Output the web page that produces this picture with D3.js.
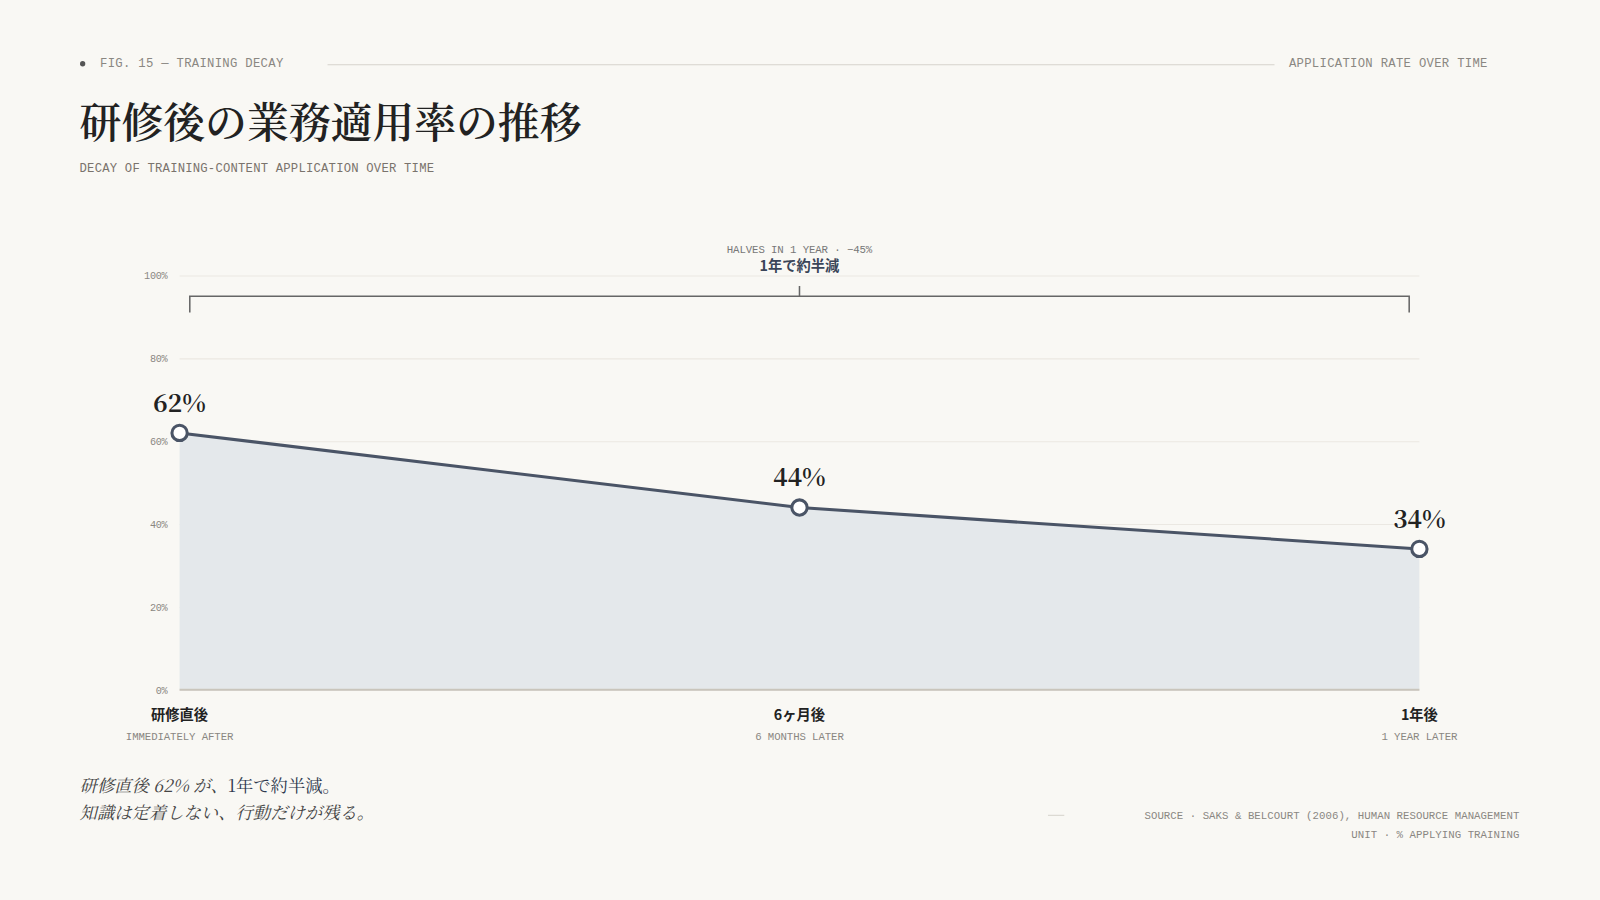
<!DOCTYPE html>
<html>
<head>
<meta charset="utf-8">
<script src="https://cdn.jsdelivr.net/npm/d3@7"></script>
<style>
  html, body { margin: 0; padding: 0; background: #f9f8f4; overflow: hidden; }
  svg { display: block; }
  .mono { font-family: "Liberation Mono", "DejaVu Sans Mono", monospace; }
  .serif { font-family: "Noto Serif CJK JP", "Liberation Serif", "DejaVu Serif", serif; }
  .sans { font-family: "Noto Sans CJK JP", "Noto Sans", sans-serif; }
</style>
</head>
<body>
<svg id="canvas"></svg>
<script>
const periods = ["研修直後", "6ヶ月後", "1年後"];
const periodsEn = ["IMMEDIATELY AFTER", "6 MONTHS LATER", "1 YEAR LATER"];
const rates = [62, 44, 34];
const yTicks = [0, 20, 40, 60, 80, 100];

const width = 1600;
const height = 900;
// layout is laid out on a 1568 wide grid, then scaled up to the page
const k = width / 1568;
const margin = { top: 270, right: 177, bottom: 206, left: 176 };
const innerWidth = 1568 - margin.left - margin.right;
const innerHeight = 882 - margin.top - margin.bottom;

const ink = "#4a5466";
const grey = "#8a8782";

const svg = d3.select("#canvas")
  .attr("width", width)
  .attr("height", height);

svg.append("rect")
  .attr("width", width)
  .attr("height", height)
  .attr("fill", "#f9f8f4");

const root = svg.append("g").attr("transform", `scale(${k})`);

// header
root.append("circle").attr("cx", 81).attr("cy", 62.5).attr("r", 2.6).attr("fill", "#555");
root.append("text").attr("class", "mono")
  .attr("x", 98).attr("y", 65.5)
  .attr("font-size", 12).attr("letter-spacing", 0.3).attr("fill", grey)
  .text("FIG. 15 — TRAINING DECAY");
root.append("line")
  .attr("x1", 321).attr("x2", 1249).attr("y1", 63.5).attr("y2", 63.5)
  .attr("stroke", "#d6d3cc").attr("stroke-width", 1);
root.append("text").attr("class", "mono")
  .attr("x", 1458).attr("y", 65.5).attr("text-anchor", "end")
  .attr("font-size", 12).attr("letter-spacing", 0.3).attr("fill", grey)
  .text("APPLICATION RATE OVER TIME");

root.append("text").attr("class", "serif")
  .attr("x", 78).attr("y", 135)
  .attr("font-size", 41).attr("font-weight", 600).attr("fill", "#222")
  .text("研修後の業務適用率の推移");
root.append("text").attr("class", "mono")
  .attr("x", 78).attr("y", 168.5)
  .attr("font-size", 12).attr("letter-spacing", 0.2).attr("fill", "#7a736c")
  .text("DECAY OF TRAINING-CONTENT APPLICATION OVER TIME");

const g = root.append("g")
  .attr("transform", `translate(${margin.left},${margin.top})`);

const x = d3.scalePoint()
  .domain(periods)
  .range([0, innerWidth]);

const y = d3.scaleLinear()
  .domain([0, 100])
  .range([innerHeight, 0]);

// gridlines + y labels
const yAxis = g.append("g")
  .call(d3.axisLeft(y).tickValues(yTicks).tickSize(-innerWidth).tickFormat(d => d + "%"));
yAxis.select(".domain").remove();
yAxis.selectAll(".tick line").attr("stroke", "#ebe8e2").attr("stroke-width", 1);
yAxis.selectAll(".tick text")
  .attr("class", "mono")
  .attr("x", -12)
  .attr("font-size", 10)
  .attr("letter-spacing", -0.3)
  .attr("fill", grey);

const data = periods.map((p, i) => ({ p, en: periodsEn[i], v: rates[i] }));

g.append("path")
  .datum(data)
  .attr("fill", "#e4e8eb")
  .attr("d", d3.area().x(d => x(d.p)).y0(y(0)).y1(d => y(d.v)));

// baseline
g.append("line")
  .attr("x1", 0).attr("x2", innerWidth)
  .attr("y1", y(0)).attr("y2", y(0))
  .attr("stroke", "#c9c5bc").attr("stroke-width", 2);

g.append("path")
  .datum(data)
  .attr("fill", "none")
  .attr("stroke", ink)
  .attr("stroke-width", 3)
  .attr("d", d3.line().x(d => x(d.p)).y(d => y(d.v)));

g.selectAll(".pt")
  .data(data)
  .enter()
  .append("circle")
  .attr("cx", d => x(d.p))
  .attr("cy", d => y(d.v))
  .attr("r", 7.5)
  .attr("fill", "#fff")
  .attr("stroke", ink)
  .attr("stroke-width", 3);

g.selectAll(".val")
  .data(data)
  .enter()
  .append("text")
  .attr("class", "serif")
  .attr("x", d => x(d.p))
  .attr("y", d => y(d.v) - 21)
  .attr("text-anchor", "middle")
  .attr("font-size", 24)
  .attr("font-weight", "bold")
  .attr("fill", "#222")
  .text(d => d.v + "%");

// x labels
g.selectAll(".xl")
  .data(data)
  .enter()
  .append("text")
  .attr("class", "sans")
  .attr("x", d => x(d.p))
  .attr("y", innerHeight + 30)
  .attr("text-anchor", "middle")
  .attr("font-size", 14)
  .attr("font-weight", "bold")
  .attr("fill", "#222")
  .text(d => d.p);
g.selectAll(".xe")
  .data(data)
  .enter()
  .append("text")
  .attr("class", "mono")
  .attr("x", d => x(d.p))
  .attr("y", innerHeight + 49)
  .attr("text-anchor", "middle")
  .attr("font-size", 10.5)
  .attr("letter-spacing", -0.1)
  .attr("fill", grey)
  .text(d => d.en);

// bracket annotation
const bx0 = x(periods[0]) + 10;
const bx1 = x(periods[2]) - 10;
const bMid = x(periods[1]);
const by = y(95);
g.append("path")
  .attr("fill", "none")
  .attr("stroke", "#666")
  .attr("stroke-width", 1.5)
  .attr("d", `M${bx0},${by + 16}V${by}H${bx1}V${by + 16}M${bMid},${by}V${by - 10}`);
g.append("text").attr("class", "mono")
  .attr("x", bMid).attr("y", y(100) - 22)
  .attr("text-anchor", "middle")
  .attr("font-size", 10.5).attr("letter-spacing", -0.1).attr("fill", "#777")
  .text("HALVES IN 1 YEAR · −45%");
g.append("text").attr("class", "sans")
  .attr("x", bMid).attr("y", y(100) - 4)
  .attr("text-anchor", "middle")
  .attr("font-size", 14).attr("font-weight", "bold").attr("fill", "#3a4558")
  .text("1年で約半減");

// footer note
const note1 = root.append("text").attr("class", "serif")
  .attr("x", 78).attr("y", 776).attr("font-size", 17);
note1.append("tspan").attr("font-style", "italic").attr("fill", "#444").text("研修直後 62% が、");
note1.append("tspan").attr("fill", "#2f3a4f").text("1年で約半減。");
root.append("text").attr("class", "serif")
  .attr("x", 78).attr("y", 803).attr("font-size", 17)
  .attr("font-style", "italic").attr("fill", "#444")
  .text("知識は定着しない、行動だけが残る。");

root.append("line")
  .attr("x1", 1027).attr("x2", 1043).attr("y1", 799).attr("y2", 799)
  .attr("stroke", "#d6d3cc");
root.append("text").attr("class", "mono")
  .attr("x", 1489).attr("y", 803).attr("text-anchor", "end")
  .attr("font-size", 10.5).attr("letter-spacing", 0.04).attr("fill", grey)
  .text("SOURCE · SAKS & BELCOURT (2006), HUMAN RESOURCE MANAGEMENT");
root.append("text").attr("class", "mono")
  .attr("x", 1489).attr("y", 821).attr("text-anchor", "end")
  .attr("font-size", 10.5).attr("letter-spacing", 0.04).attr("fill", grey)
  .text("UNIT · % APPLYING TRAINING");
</script>
</body>
</html>
